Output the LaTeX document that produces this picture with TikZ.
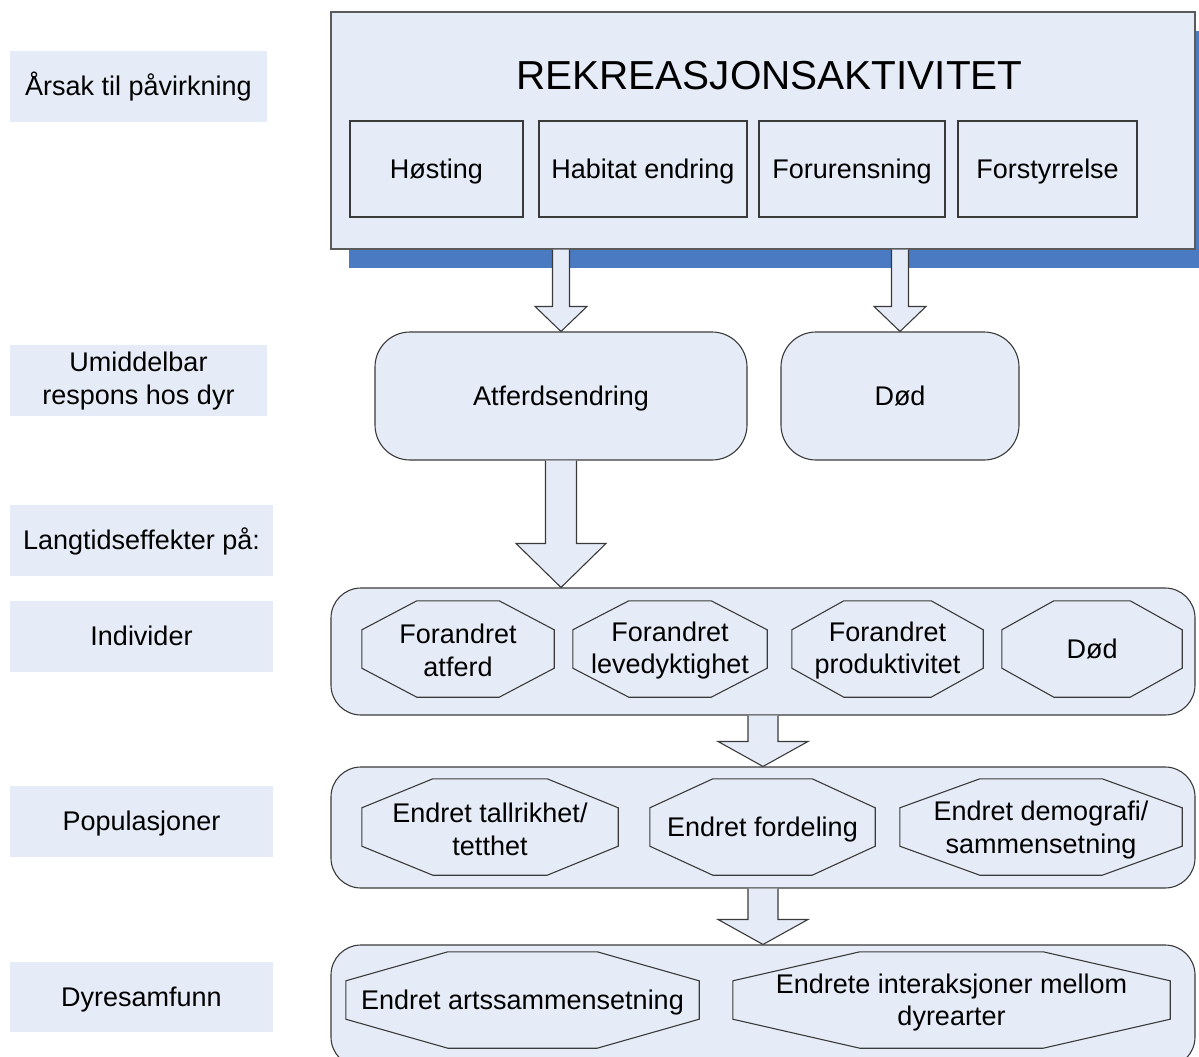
\documentclass[tikz,border=0pt]{standalone}
\usepackage{fontspec}
\setmainfont{Liberation Sans}
\usetikzlibrary{calc}
\definecolor{lb}{HTML}{E6ECF7}
\definecolor{shadowblue}{HTML}{4A7AC2}
\definecolor{edgec}{HTML}{3A3A3A}
\definecolor{topedge}{HTML}{5A5A5A}
\newcommand\octo[2]{%
  \draw[octline] ([xshift=#2]#1.north west) -- ([xshift=-#2]#1.north east)
    -- ([yshift=-29pt]#1.north east) -- ([yshift=29pt]#1.south east)
    -- ([xshift=-#2]#1.south east) -- ([xshift=#2]#1.south west)
    -- ([yshift=29pt]#1.south west) -- ([yshift=-29pt]#1.north west) -- cycle;}
\newcommand\barrow[5]{%
  \draw[arrowline] let \p1=(#1), \p2=(#2) in
    (\x1-#3,\y1) -- (\x1-#3,\y2+#5) -- (\x1-#4,\y2+#5) -- (\x2,\y2)
    -- (\x1+#4,\y2+#5) -- (\x1+#3,\y2+#5) -- (\x1+#3,\y1);}
\begin{document}
\begin{tikzpicture}[x=1pt,y=-1pt,
  txt/.style={font=\fontsize{27}{32.5}\selectfont, align=center, text=black},
  one/.style={text height=22pt, text depth=3.6pt},
  lab/.style={txt, fill=lb, inner sep=0pt},
  subbox/.style={txt, one, draw=edgec, line width=1.1pt, fill=lb, inner sep=0pt, minimum height=96pt},
  rbox/.style={draw=edgec, line width=1.1pt, fill=lb, inner sep=0pt, rounded corners=#1},
  oct/.style={txt, inner sep=0pt, minimum height=96pt},
  octline/.style={draw=edgec, line width=1.1pt},
  arrowline/.style={draw=edgec, line width=1.1pt, fill=lb, line join=miter}
]
\useasboundingbox (0,0) rectangle (1199,1057);
\clip (0,0) rectangle (1199,1057);

% left labels
\node[lab, one, minimum width=257pt, minimum height=71pt] (l1) at (138.5,86.5) {Årsak til påvirkning};
\node[lab, minimum width=257pt, minimum height=71pt, text depth=4.5pt] (l2) at (138.5,380.5) {Umiddelbar\\respons hos dyr};
\node[lab, one, minimum width=263pt, minimum height=71pt] (l3) at (141.5,540.5) {Langtidseffekter på:};
\node[lab, one, minimum width=263pt, minimum height=71pt] (l4) at (141.5,636.5) {Individer};
\node[lab, one, minimum width=263pt, minimum height=71pt] (l5) at (141.5,821.5) {Populasjoner};
\node[lab, one, minimum width=263pt, minimum height=70pt] (l6) at (141.5,997) {Dyresamfunn};

% top box with shadow
\fill[shadowblue] (349,31) rectangle (1213,268);
\node[draw=topedge, line width=1.3pt, fill=lb, minimum width=864pt, minimum height=237pt, inner sep=0pt] (top) at (763,130.5) {};
\node[font=\fontsize{40.5}{48}\selectfont, anchor=base, inner sep=0pt] (title) at (769.5,89) {REKREASJONSAKTIVITET};
\node[subbox, minimum width=173pt] (s1) at (436.5,169) {Høsting};
\node[subbox, minimum width=208pt] (s2) at (643,169) {Habitat endring};
\node[subbox, minimum width=186pt] (s3) at (852,169) {Forurensning};
\node[subbox, minimum width=179pt] (s4) at (1047.5,169) {Forstyrrelse};

% immediate response
\node[rbox=35pt, txt, one, minimum width=372pt, minimum height=128pt] (atf) at (561,396) {Atferdsendring};
\node[rbox=35pt, txt, one, minimum width=238pt, minimum height=128pt] (dod) at (900,396) {Død};

% individer
\node[rbox=30pt, minimum width=864pt, minimum height=127pt] (ind) at (763,651.5) {};
\node[oct, minimum width=192pt] (o1) at (458,649) {};
\node[oct, minimum width=194pt] (o2) at (670,649) {};
\node[oct, minimum width=191pt] (o3) at (887.5,649) {};
\node[oct, minimum width=180pt] (o4) at (1092,649) {};
\octo{o1}{55pt}\octo{o2}{56pt}\octo{o3}{52pt}\octo{o4}{52pt}
\node[txt, yshift=-1.5pt] (t1) at (o1) {Forandret\\atferd};
\node[txt, yshift=-1.5pt] (t2) at (o2) {Forandret\\levedyktighet};
\node[txt, yshift=-1.5pt] (t3) at (o3) {Forandret\\produktivitet};
\node[txt, one] (t4) at (o4) {Død};

% populasjoner
\node[rbox=30pt, minimum width=864pt, minimum height=121pt] (pop) at (763,827.5) {};
\node[oct, minimum width=256pt] (p1) at (490,827) {};
\node[oct, minimum width=225pt] (p2) at (762.5,827) {};
\node[oct, minimum width=282pt] (p3) at (1041,827) {};
\octo{p1}{71pt}\octo{p2}{63pt}\octo{p3}{80pt}
\node[txt, yshift=-2.5pt] (t5) at (p1) {Endret tallrikhet/\\tetthet};
\node[txt, one] (t6) at (p2) {Endret fordeling};
\node[txt, yshift=-3pt] (t7) at (p3) {Endret demografi/\\sammensetning};

% dyresamfunn
\node[rbox=30pt, minimum width=864pt, minimum height=122pt] (dyr) at (763,1006) {};
\node[oct, minimum width=353pt] (d1) at (522.5,1000) {};
\node[oct, minimum width=437pt] (d2) at (951.5,1000) {};
\octo{d1}{102pt}\octo{d2}{127pt}
\node[txt, one] (t8) at (d1) {Endret artssammensetning};
\node[txt, yshift=-2.5pt] (t9) at (d2) {Endrete interaksjoner mellom\\dyrearter};

% block arrows
\barrow{top.south -| atf.north}{atf.north}{8.5pt}{26pt}{25pt}
\barrow{top.south -| dod.north}{dod.north}{8.5pt}{26pt}{25pt}
\barrow{atf.south}{atf.south |- ind.north}{15.5pt}{45pt}{44pt}
\barrow{ind.south}{pop.north}{15pt}{45pt}{25pt}
\barrow{pop.south}{dyr.north}{15pt}{45pt}{25pt}
\end{tikzpicture}
\end{document}
